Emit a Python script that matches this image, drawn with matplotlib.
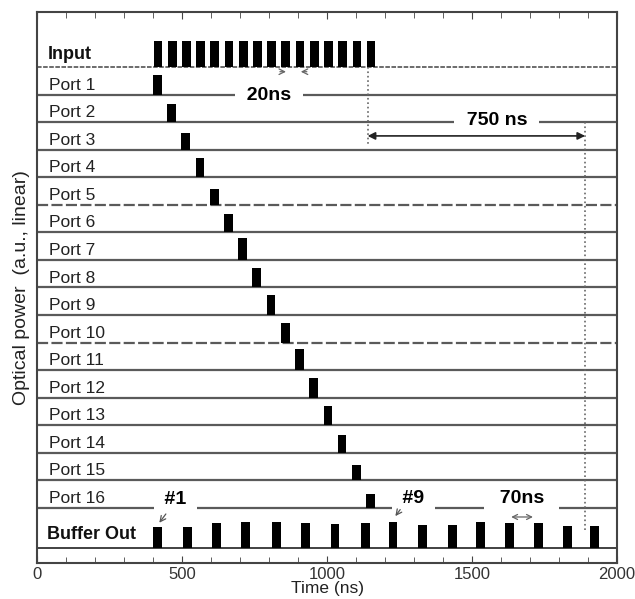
import matplotlib.pyplot as plt
from matplotlib.ticker import MultipleLocator

plt.rcParams['font.family'] = ['Liberation Sans', 'DejaVu Sans']

# pulse start times (ns)
input_starts = [402, 451, 500, 549, 598, 647, 696, 745, 794, 843, 892, 941, 990, 1039, 1088, 1137]
input_heights = [0.95, 0.95, 0.95, 0.95, 0.95, 0.95, 0.95, 0.95, 0.95, 0.95, 0.95, 0.95, 0.95, 0.95, 0.95, 0.95]

port_names = ['Port 1', 'Port 2', 'Port 3', 'Port 4', 'Port 5', 'Port 6', 'Port 7', 'Port 8',
              'Port 9', 'Port 10', 'Port 11', 'Port 12', 'Port 13', 'Port 14', 'Port 15', 'Port 16']
port_starts = [400, 449, 498, 547, 596, 645, 694, 743, 792, 841, 890, 939, 988, 1037, 1086, 1135]
port_heights = [0.70, 0.66, 0.62, 0.69, 0.58, 0.66, 0.80, 0.69, 0.72, 0.70, 0.75, 0.70, 0.68, 0.65, 0.55, 0.50]

buffer_starts = [400, 505, 605, 705, 810, 910, 1012, 1118, 1212, 1315, 1418, 1515, 1615, 1715, 1815, 1908]
buffer_heights = [0.76, 0.76, 0.90, 0.94, 0.94, 0.90, 0.87, 0.90, 0.94, 0.83, 0.83, 0.94, 0.90, 0.90, 0.80, 0.80]

pulse_w = 30

fig = plt.figure(figsize=(6.35, 5.99), dpi=100)
ax = fig.add_axes([0.0583, 0.0601, 0.9134, 0.92])

line_col = '#5a5a5a'

# input trace
y_in = 18
ax.hlines(y_in, 0, 2000, color='#444444', lw=1.1, linestyles=(0, (3, 1)), zorder=2)
ax.bar(input_starts, input_heights, width=pulse_w, bottom=y_in, align='edge', color='black', zorder=3)
ax.text(38, y_in + 0.3, 'Input', fontsize=13, weight='bold', va='baseline', color='#111111')

# demux ports
for i, name in enumerate(port_names):
    base = 17 - i
    ls = (0, (5, 1.5)) if name in ('Port 5', 'Port 10') else 'solid'
    ax.hlines(base, 0, 2000, color=line_col, lw=1.6, linestyles=ls, zorder=2)
    ax.bar(port_starts[i], port_heights[i], width=pulse_w, bottom=base, align='edge',
           color='black', zorder=3)
    ax.text(41, base + 0.18, name, fontsize=12.5, va='baseline', color='#222222')

# buffer output
y_buf = 0.55
ax.hlines(y_buf, 0, 2000, color='#333333', lw=1.3, zorder=2)
ax.bar(buffer_starts, buffer_heights, width=pulse_w, bottom=y_buf, align='edge', color='black', zorder=3)
ax.text(35, y_buf + 0.33, 'Buffer Out', fontsize=13, weight='bold', va='baseline', color='#111111')

# annotations
box = dict(fc='white', ec='none', pad=1)
tall_box = dict(fc='white', ec='none', pad=3.5)
ax.text(800, 16.95, '  20ns  ', fontsize=14, weight='bold', ha='center', va='center', bbox=box, zorder=4)
ax.annotate('', xy=(868, 17.83), xytext=(828, 17.83),
            arrowprops=dict(arrowstyle='->', color='#666666', lw=0.9), zorder=5)
ax.annotate('', xy=(900, 17.83), xytext=(940, 17.83),
            arrowprops=dict(arrowstyle='->', color='#666666', lw=0.9), zorder=5)

ax.text(1585, 16.05, '  750 ns  ', fontsize=14, weight='bold', ha='center', va='center', bbox=box, zorder=4)
ax.annotate('', xy=(1140, 15.5), xytext=(1890, 15.5),
            arrowprops=dict(arrowstyle='<|-|>', color='#222222', lw=1.2, mutation_scale=11,
                            shrinkA=0, shrinkB=0), zorder=5)
ax.plot([1140, 1140], [18, 15.2], ls=':', color='#666666', lw=1.2, zorder=4)
ax.plot([1890, 1890], [16, 1.2], ls=':', color='#666666', lw=1.2, zorder=4)

ax.text(477, 2.3, ' #1 ', fontsize=14, weight='bold', ha='center', va='center', bbox=tall_box, zorder=4)
ax.annotate('', xy=(416, 1.38), xytext=(450, 1.86),
            arrowprops=dict(arrowstyle='->', color='#555555', lw=0.9), zorder=5)
ax.text(1298, 2.35, ' #9 ', fontsize=14, weight='bold', ha='center', va='center', bbox=tall_box, zorder=4)
ax.annotate('', xy=(1230, 1.62), xytext=(1258, 2.02),
            arrowprops=dict(arrowstyle='->', color='#555555', lw=0.9), zorder=5)
ax.text(1671, 2.35, '  70ns  ', fontsize=14, weight='bold', ha='center', va='center', bbox=tall_box, zorder=4)
ax.annotate('', xy=(1635, 1.67), xytext=(1710, 1.67),
            arrowprops=dict(arrowstyle='<->', color='#666666', lw=0.9, mutation_scale=9,
                            shrinkA=0, shrinkB=0), zorder=5)

ax.set_xlim(0, 2000)
ax.set_ylim(0, 20)
ax.set_yticks([])
ax.set_xticks([0, 500, 1000, 1500, 2000])
ax.xaxis.set_minor_locator(MultipleLocator(100))
ax.tick_params(axis='x', which='both', direction='in', top=True, color='#444444', labelsize=12,
               labelcolor='#333333', pad=3)
ax.tick_params(axis='x', which='major', length=5)
ax.tick_params(axis='x', which='minor', length=4)
for s in ax.spines.values():
    s.set_color('#444444')
    s.set_linewidth(1.5)

ax.set_xlabel('Time (ns)', fontsize=12.5, labelpad=-1, color='#222222')
ax.set_ylabel('Optical power  (a.u., linear)', fontsize=14, labelpad=5, color='#222222')

fig.savefig('out.png', dpi=100)
